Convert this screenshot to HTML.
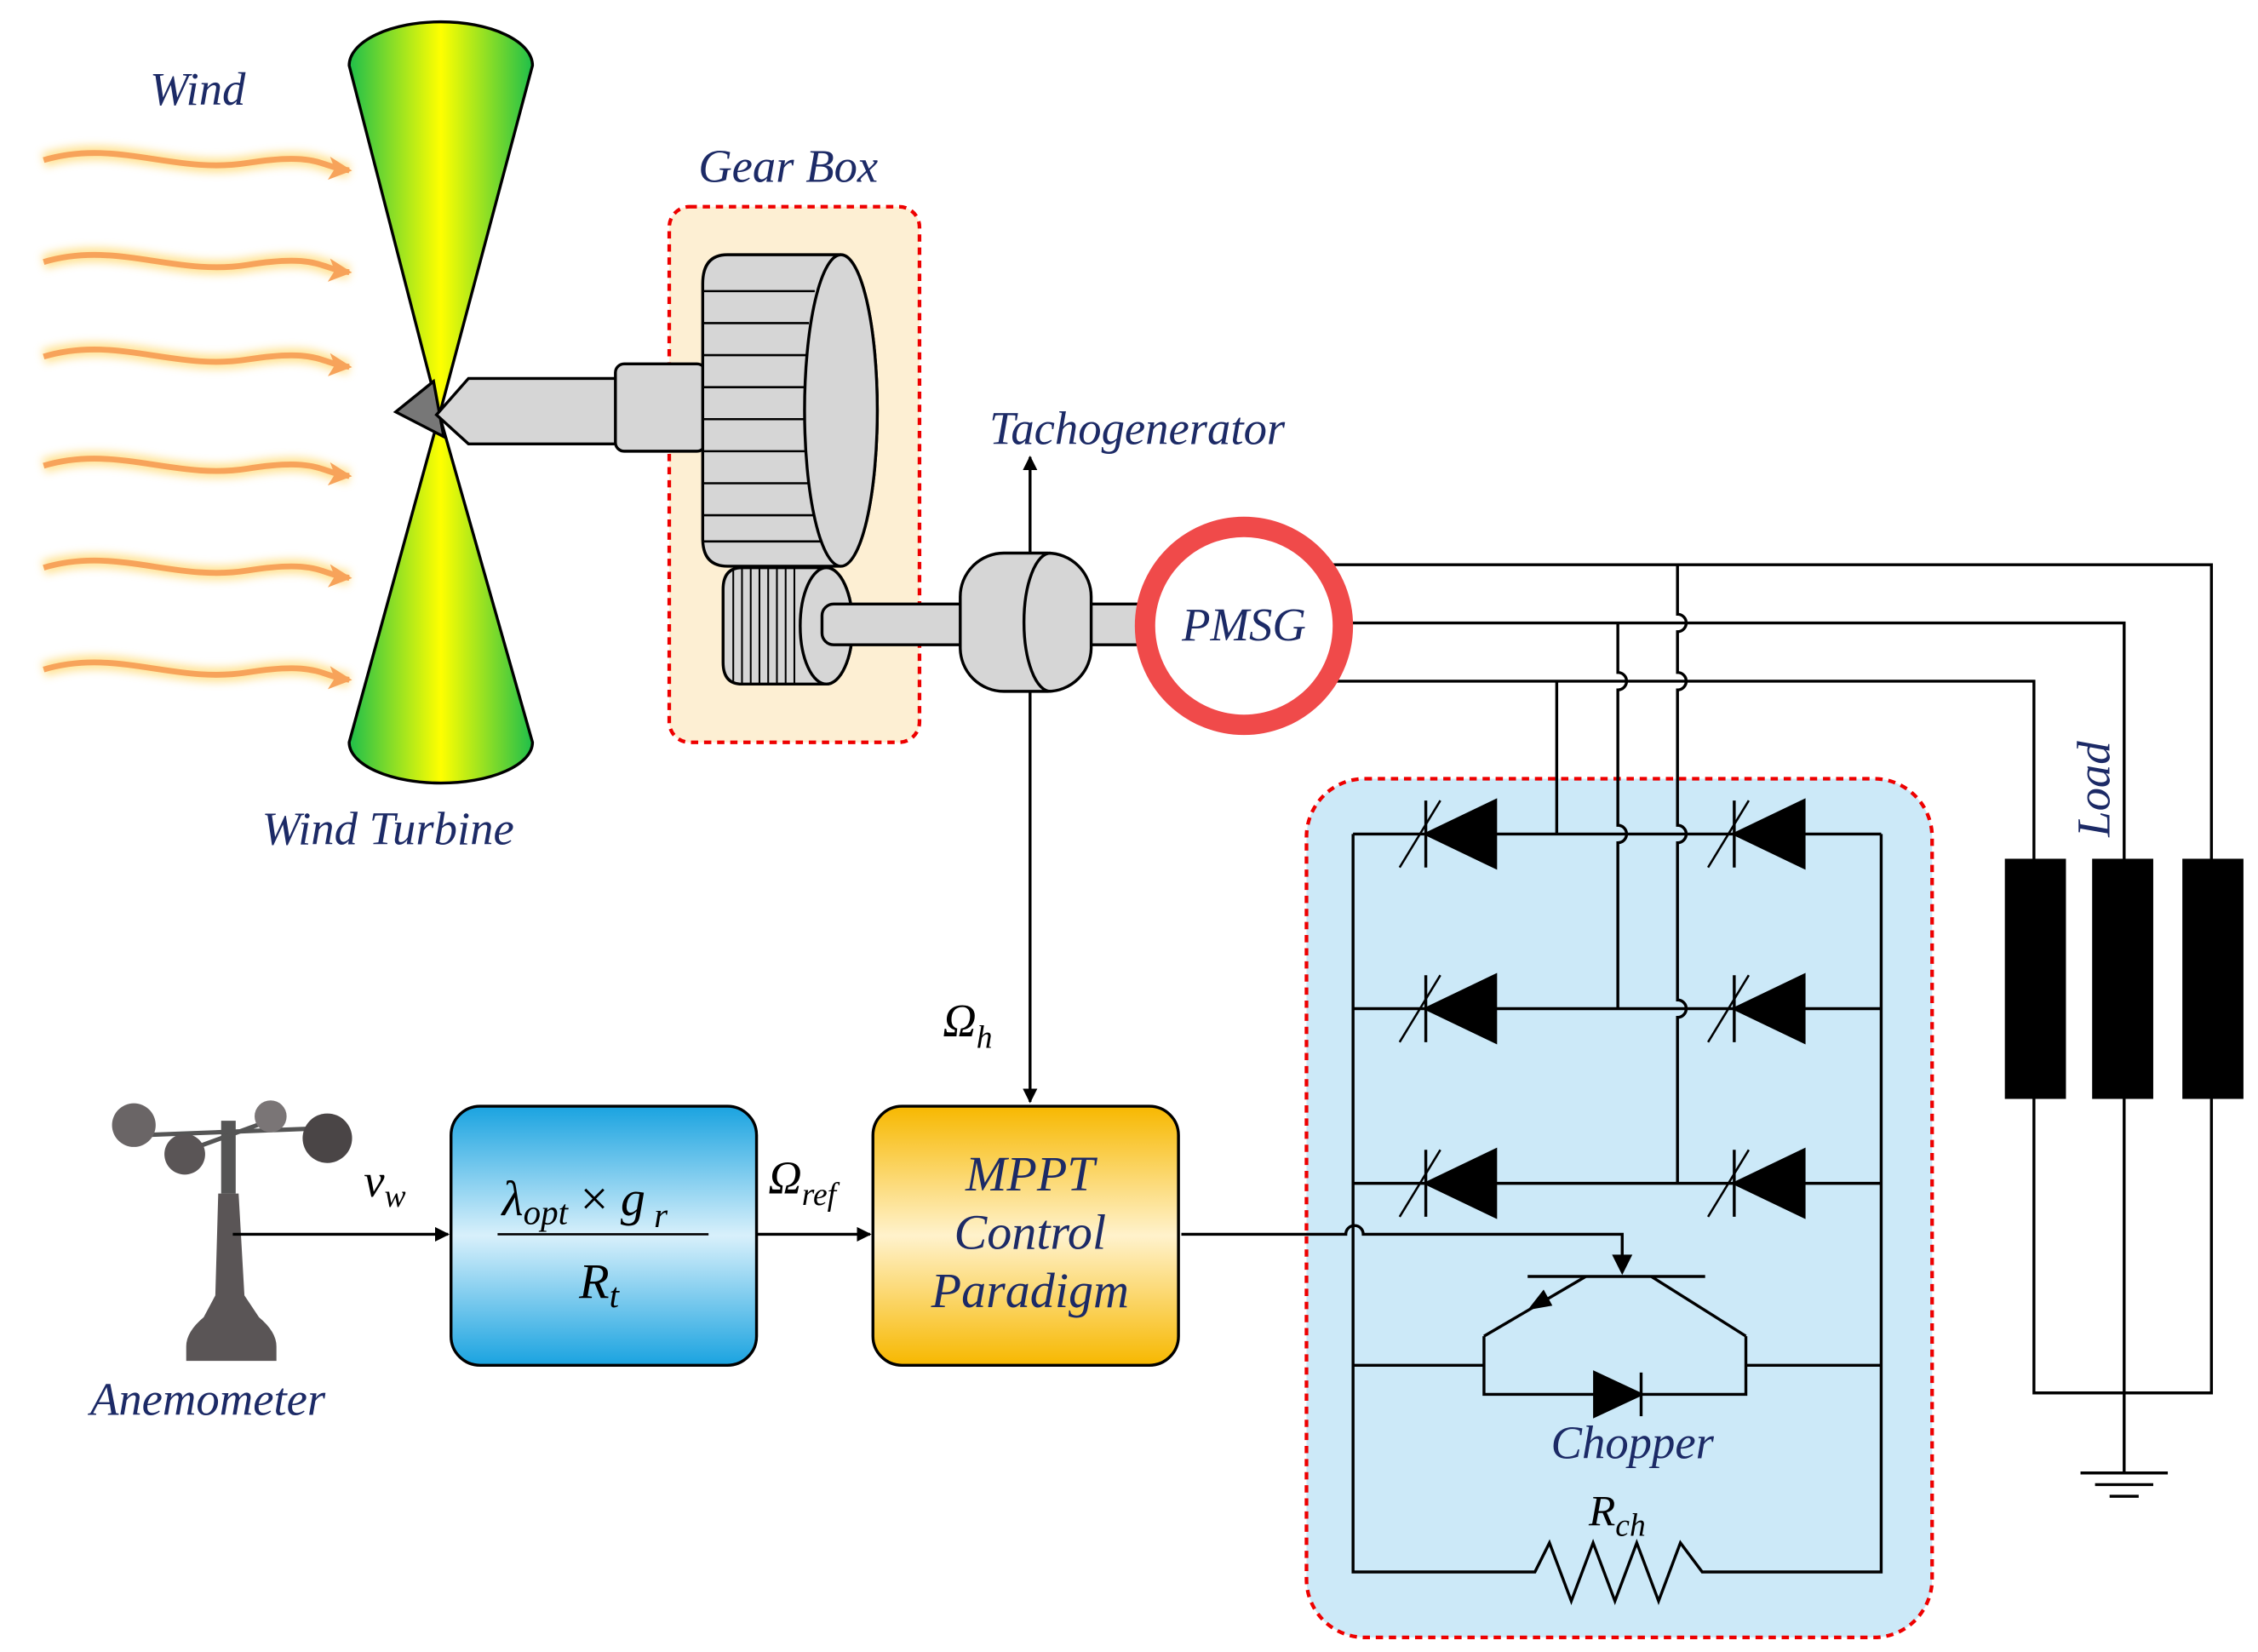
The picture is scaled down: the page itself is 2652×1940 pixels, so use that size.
<!DOCTYPE html>
<html><head><meta charset="utf-8"><style>
html,body{margin:0;padding:0;background:#fff;}
svg{display:block;}
.lbl{font-family:"Liberation Serif",serif;font-style:italic;fill:#1c2a66;}
.m{font-family:"Liberation Serif",serif;font-style:italic;fill:#000;}
</style></head><body>
<svg width="2652" height="1940" viewBox="0 0 1552 1135" preserveAspectRatio="none" xmlns="http://www.w3.org/2000/svg">
<defs>
<linearGradient id="tg" x1="0" x2="1" y1="0" y2="0">
<stop offset="0" stop-color="#1fbf4a"/><stop offset="0.5" stop-color="#ffff00"/><stop offset="1" stop-color="#1fbf4a"/></linearGradient>
<linearGradient id="bg" x1="0" x2="0" y1="0" y2="1">
<stop offset="0" stop-color="#1aa3e0"/><stop offset="0.5" stop-color="#d8f0fb"/><stop offset="1" stop-color="#1aa3e0"/></linearGradient>
<linearGradient id="og" x1="0" x2="0" y1="0" y2="1">
<stop offset="0" stop-color="#f7b800"/><stop offset="0.5" stop-color="#fff2cc"/><stop offset="1" stop-color="#f7b800"/></linearGradient>
<marker id="ar" markerWidth="10" markerHeight="10" refX="9" refY="5" orient="auto" markerUnits="userSpaceOnUse"><path d="M0,0 L10,5 L0,10 Z" fill="#000"/></marker>
<marker id="oa" markerWidth="16" markerHeight="16" refX="14" refY="8" orient="auto" markerUnits="userSpaceOnUse"><path d="M0,0 L16,8 L0,16 L4,8 Z" fill="#f7a35a"/></marker>
<filter id="gl" x="-20%" y="-100%" width="140%" height="300%"><feGaussianBlur stdDeviation="3"/></filter>
</defs>

<text x="103" y="72" class="lbl" font-size="32">Wind</text>
<g fill="none" stroke="#ffe08a" stroke-width="10" filter="url(#gl)" opacity="0.9">
<path d="M30,110 C80,95 120,120 170,112 S220,115 240,117"/>
<path d="M30,180 C80,165 120,190 170,182 S220,185 240,187"/>
<path d="M30,245 C80,230 120,255 170,247 S220,250 240,252"/>
<path d="M30,320 C80,305 120,330 170,322 S220,325 240,327"/>
<path d="M30,390 C80,375 120,400 170,392 S220,395 240,397"/>
<path d="M30,460 C80,445 120,470 170,462 S220,465 240,467"/>
</g>
<g fill="none" stroke="#f7a35a" stroke-width="4">
<path d="M30,110 C80,95 120,120 170,112 S220,115 240,117" marker-end="url(#oa)"/>
<path d="M30,180 C80,165 120,190 170,182 S220,185 240,187" marker-end="url(#oa)"/>
<path d="M30,245 C80,230 120,255 170,247 S220,250 240,252" marker-end="url(#oa)"/>
<path d="M30,320 C80,305 120,330 170,322 S220,325 240,327" marker-end="url(#oa)"/>
<path d="M30,390 C80,375 120,400 170,392 S220,395 240,397" marker-end="url(#oa)"/>
<path d="M30,460 C80,445 120,470 170,462 S220,465 240,467" marker-end="url(#oa)"/>
</g>

<!-- turbine -->
<path d="M240,45 A63,30 0 0 1 366,45 L302,285 Z" fill="url(#tg)" stroke="#000" stroke-width="2"/>
<path d="M302,285 L366,510 A63,28 0 0 1 240,510 Z" fill="url(#tg)" stroke="#000" stroke-width="2"/>
<path d="M272,283 L298,262 L305,300 Z" fill="#777" stroke="#000" stroke-width="2"/>
<path d="M300,285 L322,260 L425,260 L425,305 L322,305 Z" fill="#d6d6d6" stroke="#000" stroke-width="2"/>
<text x="180" y="580" class="lbl" font-size="32">Wind Turbine</text>

<!-- gearbox -->
<rect x="460" y="142" width="172" height="368" rx="14" fill="#fdefd3" stroke="#e00" stroke-width="2.5" stroke-dasharray="5,4"/>
<text x="480" y="125" class="lbl" font-size="32">Gear Box</text>
<rect x="423" y="250" width="62" height="60" rx="6" fill="#d6d6d6" stroke="#000" stroke-width="2"/>
<path d="M500,175 L578,175 A25,107 0 0 1 578,389 L500,389 Q483,389 483,370 L483,195 Q483,175 500,175 Z" fill="#d6d6d6" stroke="#000" stroke-width="2"/>
<g stroke="#000" stroke-width="1.5">
<line x1="483" y1="200" x2="560" y2="200"/><line x1="483" y1="222" x2="556" y2="222"/><line x1="483" y1="244" x2="554" y2="244"/><line x1="483" y1="266" x2="553" y2="266"/><line x1="483" y1="288" x2="553" y2="288"/><line x1="483" y1="310" x2="554" y2="310"/><line x1="483" y1="332" x2="556" y2="332"/><line x1="483" y1="354" x2="560" y2="354"/><line x1="483" y1="372" x2="566" y2="372"/>
</g>
<ellipse cx="578" cy="282" rx="25" ry="107" fill="#d6d6d6" stroke="#000" stroke-width="2"/>
<path d="M510,390 L568,390 A18,40 0 0 1 568,470 L510,470 Q497,470 497,455 L497,405 Q497,390 510,390 Z" fill="#d6d6d6" stroke="#000" stroke-width="2"/>
<g stroke="#000" stroke-width="1.2">
<line x1="504" y1="392" x2="504" y2="468"/><line x1="510" y1="390" x2="510" y2="470"/><line x1="516" y1="390" x2="516" y2="470"/><line x1="522" y1="390" x2="522" y2="470"/><line x1="528" y1="390" x2="528" y2="470"/><line x1="534" y1="390" x2="534" y2="470"/><line x1="540" y1="390" x2="540" y2="470"/><line x1="546" y1="390" x2="546" y2="470"/>
</g>
<ellipse cx="568" cy="430" rx="18" ry="40" fill="#d6d6d6" stroke="#000" stroke-width="2"/>
<rect x="565" y="415" width="225" height="28" rx="8" fill="#d6d6d6" stroke="#000" stroke-width="2"/>

<!-- tacho -->
<rect x="660" y="380" width="90" height="95" rx="30" fill="#d6d6d6" stroke="#000" stroke-width="2"/>
<path d="M722,380 A18,47 0 0 0 722,475" fill="none" stroke="#000" stroke-width="2"/>
<line x1="708" y1="380" x2="708" y2="314" stroke="#000" stroke-width="2" marker-end="url(#ar)"/>
<text x="680" y="305" class="lbl" font-size="32">Tachogenerator</text>
<line x1="708" y1="475" x2="708" y2="757" stroke="#000" stroke-width="2" marker-end="url(#ar)"/>
<text x="648" y="712" class="m" font-size="32" font-style="normal">Ω<tspan font-size="22" dy="8" font-style="italic">h</tspan></text>

<!-- converter box (behind wires) -->
<rect x="898" y="535" width="430" height="590" rx="40" fill="#cce9f8" stroke="#e00" stroke-width="2.5" stroke-dasharray="5,4"/>

<!-- wires -->
<g fill="none" stroke="#000" stroke-width="2">
<path d="M900,388 L1520,388 L1520,590"/>
<path d="M900,428 L1460,428 L1460,590"/>
<path d="M900,468 L1398,468 L1398,590"/>
<path d="M1070,468 L1070,573"/>
<path d="M1112,428 L1112,462 A6,6 0 0 1 1112,474 L1112,567 A6,6 0 0 1 1112,579 L1112,693"/>
<path d="M1153,388 L1153,422 A6,6 0 0 1 1153,434 L1153,462 A6,6 0 0 1 1153,474 L1153,567 A6,6 0 0 1 1153,579 L1153,687 A6,6 0 0 1 1153,699 L1153,813"/>
<path d="M1398,755 L1398,957 L1520,957 L1520,755"/>
<path d="M1460,755 L1460,1012"/>
<path d="M1430,1012 L1490,1012 M1440,1020 L1480,1020 M1450,1028 L1470,1028"/>
</g>
<circle cx="855" cy="430" r="68" fill="#fff" stroke="#f04a4a" stroke-width="14"/>
<text x="855" y="440" class="lbl" font-size="32" text-anchor="middle">PMSG</text>

<rect x="1378" y="590" width="42" height="165" fill="#000"/>
<rect x="1438" y="590" width="42" height="165" fill="#000"/>
<rect x="1500" y="590" width="42" height="165" fill="#000"/>
<text transform="translate(1450,575) rotate(-90)" class="lbl" font-size="32">Load</text>

<g fill="none" stroke="#000" stroke-width="2">
<path d="M930,573 L930,1080 L1055,1080 L1065,1060 L1080,1100 L1095,1060 L1110,1100 L1125,1060 L1140,1100 L1155,1060 L1170,1080 L1293,1080 L1293,573"/>
<path d="M930,573 L1293,573"/>
<path d="M930,693 L1293,693"/>
<path d="M930,813 L1293,813"/>
<path d="M930,938 L1020,938 L1020,918 L1020,958 L1200,958 L1200,918 L1200,938 L1293,938"/>
<path d="M1050,877 L1172,877"/>
<path d="M1090,877 L1020,918 M1135,877 L1200,918"/>
<path d="M812,848 L925,848 A6,6 0 0 1 937,848 L1115,848 L1115,866"/>
</g>
<path d="M1115,876 L1108,862 L1122,862 Z" fill="#000"/>
<path d="M1050,900 L1067,897 L1061,886 Z" fill="#000"/>
<g fill="#000" stroke="#000" stroke-width="2">
<path d="M980,573 L1028,550 L1028,596 Z"/><line x1="980" y1="550" x2="980" y2="596"/><line x1="962" y1="596" x2="990" y2="550" stroke-width="1.5"/>
<path d="M1192,573 L1240,550 L1240,596 Z"/><line x1="1192" y1="550" x2="1192" y2="596"/><line x1="1174" y1="596" x2="1202" y2="550" stroke-width="1.5"/>
<path d="M980,693 L1028,670 L1028,716 Z"/><line x1="980" y1="670" x2="980" y2="716"/><line x1="962" y1="716" x2="990" y2="670" stroke-width="1.5"/>
<path d="M1192,693 L1240,670 L1240,716 Z"/><line x1="1192" y1="670" x2="1192" y2="716"/><line x1="1174" y1="716" x2="1202" y2="670" stroke-width="1.5"/>
<path d="M980,813 L1028,790 L1028,836 Z"/><line x1="980" y1="790" x2="980" y2="836"/><line x1="962" y1="836" x2="990" y2="790" stroke-width="1.5"/>
<path d="M1192,813 L1240,790 L1240,836 Z"/><line x1="1192" y1="790" x2="1192" y2="836"/><line x1="1174" y1="836" x2="1202" y2="790" stroke-width="1.5"/>
<path d="M1128,958 L1096,943 L1096,973 Z"/><line x1="1128" y1="943" x2="1128" y2="973"/>
</g>
<text x="1122" y="1002" class="lbl" font-size="32" text-anchor="middle">Chopper</text>
<text x="1092" y="1048" class="m" font-size="30">R<tspan font-size="22" dy="7">ch</tspan></text>

<!-- anemometer -->
<g>
<rect x="152" y="770" width="10" height="50" fill="#555"/>
<path d="M150,820 L164,820 L168,890 L178,905 Q190,915 190,925 L190,935 L128,935 L128,925 Q128,915 140,905 L148,890 Z" fill="#5a5556"/>
<line x1="95" y1="780" x2="225" y2="775" stroke="#555" stroke-width="3"/>
<line x1="130" y1="790" x2="185" y2="770" stroke="#555" stroke-width="3"/>
<circle cx="92" cy="773" r="15" fill="#6a6566"/>
<circle cx="225" cy="782" r="17" fill="#4a4546"/>
<circle cx="127" cy="793" r="14" fill="#5a5556"/>
<circle cx="186" cy="767" r="11" fill="#7a7576"/>
</g>
<text x="62" y="972" class="lbl" font-size="32">Anemometer</text>
<line x1="160" y1="848" x2="308" y2="848" stroke="#000" stroke-width="2" marker-end="url(#ar)"/>
<text x="250" y="822" class="m" font-size="32">v<tspan font-size="22" dy="7">w</tspan></text>

<rect x="310" y="760" width="210" height="178" rx="20" fill="url(#bg)" stroke="#000" stroke-width="2"/>
<text x="345" y="835" class="m" font-size="34">λ<tspan font-size="24" dy="6">opt</tspan><tspan dy="-6" font-style="normal"> × </tspan>g<tspan font-size="24" dy="8"> r</tspan></text>
<line x1="342" y1="848" x2="487" y2="848" stroke="#000" stroke-width="1.5"/>
<text x="398" y="892" class="m" font-size="34">R<tspan font-size="24" dy="6">t</tspan></text>

<line x1="520" y1="848" x2="598" y2="848" stroke="#000" stroke-width="2" marker-end="url(#ar)"/>
<text x="528" y="820" class="m" font-size="32" font-style="normal">Ω<tspan font-size="22" dy="8" font-style="italic">ref</tspan></text>

<rect x="600" y="760" width="210" height="178" rx="20" fill="url(#og)" stroke="#000" stroke-width="2"/>
<text x="708" y="818" class="lbl" font-size="34" text-anchor="middle">MPPT</text>
<text x="708" y="858" class="lbl" font-size="34" text-anchor="middle">Control</text>
<text x="708" y="898" class="lbl" font-size="34" text-anchor="middle">Paradigm</text>
</svg>
</body></html>
